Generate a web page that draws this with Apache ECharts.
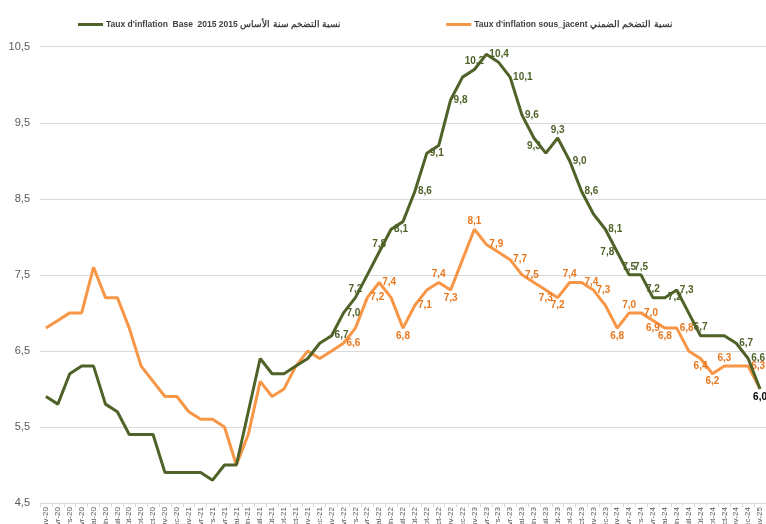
<!DOCTYPE html>
<html>
<head>
<meta charset="utf-8">
<script src="https://cdn.jsdelivr.net/npm/echarts@6/dist/echarts.min.js"></script>
<style>
html,body{margin:0;padding:0;background:#fff;}
#chart{width:766px;height:524px;}
</style>
</head>
<body>
<div id="chart"></div>
<script>
const categories = [
 'janv-20','févr-20','mars-20','avr-20','mai-20','juin-20','juil-20','août-20','sept-20','oct-20','nov-20','déc-20',
 'janv-21','févr-21','mars-21','avr-21','mai-21','juin-21','juil-21','août-21','sept-21','oct-21','nov-21','déc-21',
 'janv-22','févr-22','mars-22','avr-22','mai-22','juin-22','juil-22','août-22','sept-22','oct-22','nov-22','déc-22',
 'janv-23','févr-23','mars-23','avr-23','mai-23','juin-23','juil-23','août-23','sept-23','oct-23','nov-23','déc-23',
 'janv-24','févr-24','mars-24','avr-24','mai-24','juin-24','juil-24','août-24','sept-24','oct-24','nov-24','déc-24',
 'janv-25'
];
const seriesNames = [
 "Taux d'inflation  Base  2015 نسبة التضخم سنة الأساس 2015",
 "Taux d'inflation sous_jacent نسبة التضخم الضمني"
];
const baseInflation = [
 5.9,5.8,6.2,6.3,6.3,5.8,5.7,5.4,5.4,5.4,4.9,4.9,
 4.9,4.9,4.8,5.0,5.0,5.7,6.4,6.2,6.2,6.3,6.4,6.6,
 6.7,7.0,7.2,7.5,7.8,8.1,8.2,8.6,9.1,9.2,9.8,10.1,
 10.2,10.4,10.3,10.1,9.6,9.3,9.1,9.3,9.0,8.6,8.3,8.1,
 7.8,7.5,7.5,7.2,7.2,7.3,7.0,6.7,6.7,6.7,6.6,6.4,
 6.0
];
const coreInflation = [
 6.8,6.9,7.0,7.0,7.6,7.2,7.2,6.8,6.3,6.1,5.9,5.9,
 5.7,5.6,5.6,5.5,5.0,5.4,6.1,5.9,6.0,6.3,6.5,6.4,
 6.5,6.6,6.8,7.2,7.4,7.2,6.8,7.1,7.3,7.4,7.3,7.7,
 8.1,7.9,7.8,7.7,7.5,7.4,7.3,7.2,7.4,7.4,7.3,7.1,
 6.8,7.0,7.0,6.9,6.8,6.8,6.5,6.4,6.2,6.3,6.3,6.3,
 6.0
];
const yTicks = [4.5,5.5,6.5,7.5,8.5,9.5,10.5];
// visible data-label texts (by category index)
const baseLabels = {24:'6,7',25:'7,0',26:'7,2',28:'7,8',29:'8,1',31:'8,6',32:'9,1',34:'9,8',36:'10,2',37:'10,4',
 39:'10,1',40:'9,6',41:'9,3',43:'9,3',44:'9,0',45:'8,6',47:'8,1',48:'7,8',49:'7,5',50:'7,5',51:'7,2',52:'7,2',
 53:'7,3',55:'6,7',58:'6,7',59:'6,6',60:'6,0'};
const coreLabels = {25:'6,6',27:'7,2',28:'7,4',30:'6,8',31:'7,1',33:'7,4',34:'7,3',36:'8,1',37:'7,9',39:'7,7',
 40:'7,5',42:'7,3',43:'7,2',44:'7,4',45:'7,4',46:'7,3',48:'6,8',49:'7,0',50:'7,0',51:'6,9',52:'6,8',53:'6,8',
 55:'6,4',56:'6,2',57:'6,3',59:'6,3'};

// label placement (style only)
const basePos = {26:'top',28:'top',36:'top',41:'bottom',43:'top',48:'left',49:'top',50:'top',51:'top',55:'top',60:'bottom'};
const corePos = {30:'bottom',33:'top',34:'bottom',36:'top',42:'bottom',43:'bottom',44:'top',48:'bottom',49:'top',
 51:'bottom',52:'bottom',55:'bottom',56:'bottom',57:'top'};
const baseOffset = {36:[3,0],39:[8,4],49:[5,-7],50:[10,-7],34:[0,2],41:[-3,0],60:[-3,-2]};
const coreOffset = {34:[8,0],52:[6,0],39:[0,6],57:[4,0]};

const GREEN = '#4F6228', ORANGE = '#F79646', ORANGE_TXT = '#E9781F';

function build(values, labels, pos, offs, color, special){
  return values.map((v,i)=>{
    const t = labels[i];
    if(!t) return {value:v};
    return {value:v, label:{show:true, formatter:t, position:pos[i]||'right', distance:3,
      offset:offs[i]||[0,0], color:(special && special[i])||color}};
  });
}

const chart = echarts.init(document.getElementById('chart'), null, {renderer:'canvas'});
chart.setOption({
  animation:false,
  textStyle:{fontFamily:'Liberation Sans, Arial, sans-serif'},
  legend:{
    top:15, left:73, itemWidth:25, itemHeight:3, itemGap:105, icon:'rect',
    textStyle:{fontSize:8.5, fontWeight:'bold', color:'#404040', padding:[0,0,0,-2]},
    data:seriesNames
  },
  grid:{left:40, right:0, top:46.7, bottom:21, containLabel:false, outerBoundsMode:'none'},
  xAxis:{
    type:'category', data:categories, boundaryGap:true,
    axisLine:{lineStyle:{color:'#d9d9d9'}},
    axisTick:{show:true, length:4, lineStyle:{color:'#d9d9d9'}},
    axisLabel:{interval:0, rotate:90, fontSize:8, color:'#595959', margin:4, hideOverlap:false}
  },
  yAxis:{
    type:'value', min:yTicks[0], max:yTicks[yTicks.length-1], interval:1,
    axisLine:{show:false}, axisTick:{show:false},
    splitLine:{lineStyle:{color:'#d9d9d9', width:1}},
    axisLabel:{fontSize:11, color:'#595959', margin:10, formatter:v=>v.toFixed(1).replace('.',',')}
  },
  series:[
    {name:seriesNames[0], type:'line', symbol:'circle', symbolSize:0.01, showSymbol:true,
     lineStyle:{color:GREEN, width:3}, itemStyle:{color:GREEN},
     label:{show:false, fontSize:10, fontWeight:'bold'},
     labelLayout:{hideOverlap:false},
     data:build(baseInflation, baseLabels, basePos, baseOffset, GREEN, {60:'#000000'}), z:3},
    {name:seriesNames[1], type:'line', symbol:'circle', symbolSize:0.01, showSymbol:true,
     lineStyle:{color:ORANGE, width:3}, itemStyle:{color:ORANGE},
     label:{show:false, fontSize:10, fontWeight:'bold'},
     labelLayout:{hideOverlap:false},
     data:build(coreInflation, coreLabels, corePos, coreOffset, ORANGE_TXT), z:2}
  ]
});
</script>
</body>
</html>
